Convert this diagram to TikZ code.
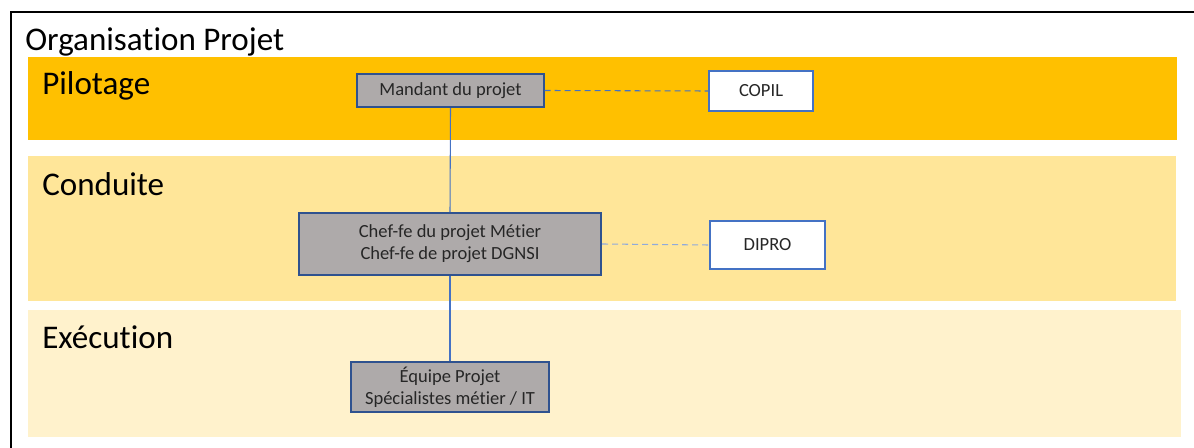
\documentclass[tikz,border=0pt]{standalone}
\usepackage{fontspec}
\setmainfont[Ligatures=NoCommon]{Carlito}
\usetikzlibrary{positioning}

\definecolor{orPilot}{HTML}{FFC000}
\definecolor{orConduite}{HTML}{FFE699}
\definecolor{orExec}{HTML}{FFF2CC}
\definecolor{boxgris}{HTML}{AEAAAA}
\definecolor{bordfonce}{HTML}{2F528F}
\definecolor{bleu}{HTML}{4472C4}
\definecolor{bleuclair}{HTML}{8FAADC}
\definecolor{texte}{HTML}{262626}

\tikzset{
    role/.style={draw=bordfonce, line width=1.3pt, fill=boxgris, text=texte,
        font=\fontsize{13.9}{16.5}\selectfont, align=center, inner sep=0pt},
    instance/.style={draw=bleu, line width=1.3pt, fill=white, text=texte,
        font=\fontsize{13.9}{16.5}\selectfont, inner sep=0pt},
    niveau/.style={anchor=base west, inner sep=0pt, font=\fontsize{24.8}{29}\selectfont},
    lien/.style={draw=bleu, line width=0.8pt},
    consult/.style={lien, dash pattern=on 4.5pt off 3pt}
}

\begin{document}
\begin{tikzpicture}[x=0.75pt, y=-0.75pt]
    \useasboundingbox (0,0) rectangle (1194,448);
    % Cadre
    \draw[line width=1.6pt] (11,448) -- (11,12) -- (1194,12);
    \node[niveau] (titre) at (25,51) {Organisation Projet};
    % Bandes des niveaux
    \fill[orPilot] (28,57) rectangle (1177,140);
    \fill[orConduite] (28,156) rectangle (1176,301);
    \fill[orExec] (28,310) rectangle (1181,437);
    \node[niveau] (pilotage) at (42,95) {Pilotage};
    \node[niveau] (conduite) at (42,196) {Conduite};
    \node[niveau] (execution) at (42,349) {Exécution};
    % Rôles
    \node[role, minimum width=140pt, minimum height=25pt] (mandant) at (450.5,90.5)
        {Mandant du projet};
    \node[role, minimum width=227pt, minimum height=46.5pt] (chef) at (450,244)
        {Chef-fe du projet Métier\\Chef-fe de projet DGNSI};
    \node[role, minimum width=148.5pt, minimum height=37.5pt] (equipe) at (450,387)
        {Équipe Projet\\Spécialistes métier / IT};
    % Instances
    \node[instance, minimum width=78pt, minimum height=30pt] (copil) at (761,91) {COPIL};
    \node[instance, minimum width=86pt, minimum height=36pt] (dipro) at (767.5,245) {DIPRO};
    % Liens
    \draw[lien] (mandant.south) -- (chef.north);
    \draw[lien] (chef.south) -- (equipe.north);
    \draw[consult] (mandant.east) -- (copil.west);
    \draw[consult, draw=bleuclair] (chef.east) -- (dipro.west);
\end{tikzpicture}
\end{document}
